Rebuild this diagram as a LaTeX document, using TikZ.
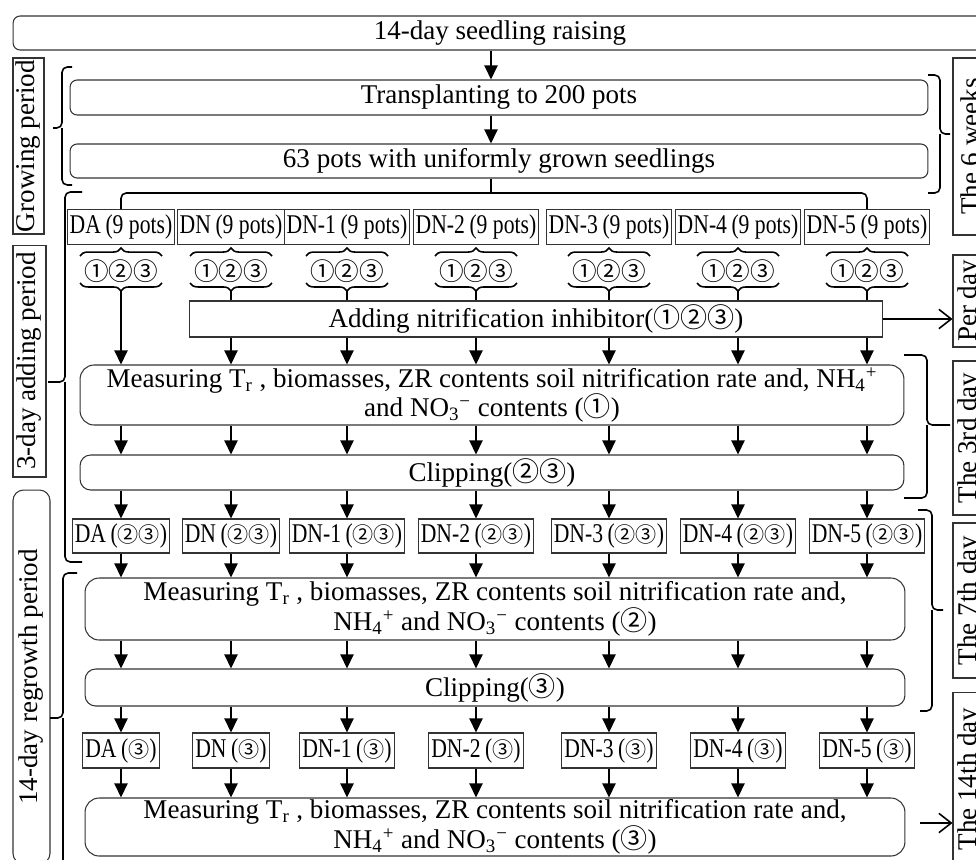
\documentclass[tikz,border=0pt]{standalone}
\usepackage{fontspec}
\setmainfont{Liberation Serif}
\newfontfamily\cnum{Noto Sans CJK SC}
\newfontfamily\cond[FakeStretch=0.8]{Liberation Serif}
\usetikzlibrary{arrows.meta, decorations.pathreplacing}

\tikzset{
  rbox/.style={draw=black!80, line width=0.6pt, rounded corners=4pt, inner sep=1pt},
  sbox/.style={draw=black!80, line width=0.6pt, inner sep=1pt},
  grp/.style={draw=black!80, line width=0.6pt, inner sep=1.5pt, minimum height=0.7cm, font=\cond\fontsize{15.4}{16}\selectfont},
  num/.style={inner sep=0pt, font=\cnum\fontsize{14}{15}\selectfont},
  side/.style={draw=black!80, line width=0.6pt, rotate=90, inner sep=1pt},
  arr/.style={-{Triangle[length=8pt,width=7.5pt]}, line width=0.9pt},
  lin/.style={line width=0.9pt},
  barb/.style={-{Straight Barb[length=7pt,width=11pt]}, line width=0.9pt},
  brc/.style={decorate, decoration={brace, amplitude=4.5pt}, line width=0.9pt},
  bkt/.style={line width=0.9pt, rounded corners=3pt}
}

\begin{document}
\begin{tikzpicture}[x=0.02cm, y=-0.02cm, font=\fontsize{15.4}{16.8}\selectfont]
  \useasboundingbox (0,0) rectangle (976,859);
  \clip (0,0) rectangle (976,859);

  % main column
  \node[rbox, minimum width=19.48cm, minimum height=0.68cm] (seed) at (500,33) {14-day seedling raising};
  \node[rbox, minimum width=17.16cm, minimum height=0.7cm] (trans) at (499,97.5) {Transplanting to 200 pots};
  \node[rbox, minimum width=17.16cm, minimum height=0.68cm] (uni) at (499,161) {63 pots with uniformly grown seedlings};
  \coordinate (stem) at (491,0);

  \node[sbox, minimum width=13.88cm, minimum height=0.72cm] (add) at (536,319) {Adding nitrification inhibitor({\cnum ①②③})};

  \node[rbox, rounded corners=8pt, minimum width=16.48cm, minimum height=1.2cm, align=center] (meas1) at (492,395)
    {Measuring T\textsubscript{r} , biomasses, ZR contents soil nitrification rate and, NH\textsubscript{4}\textsuperscript{+}\\
     and NO\textsubscript{3}\textsuperscript{−} contents ({\cnum ①})};
  \node[rbox, rounded corners=6pt, minimum width=16.48cm, minimum height=0.7cm] (clip1) at (492,472.5) {Clipping({\cnum ②③})};

  \node[rbox, rounded corners=8pt, minimum width=16.4cm, minimum height=1.24cm, align=center] (meas2) at (495,609)
    {Measuring T\textsubscript{r} , biomasses, ZR contents soil nitrification rate and,\\
     NH\textsubscript{4}\textsuperscript{+} and NO\textsubscript{3}\textsuperscript{−} contents ({\cnum ②})};
  \node[rbox, rounded corners=6pt, minimum width=16.4cm, minimum height=0.74cm] (clip2) at (495,687.5) {Clipping({\cnum ③})};

  \node[rbox, rounded corners=8pt, minimum width=16.4cm, minimum height=1.16cm, align=center] (meas3) at (495,827)
    {Measuring T\textsubscript{r} , biomasses, ZR contents soil nitrification rate and,\\
     NH\textsubscript{4}\textsuperscript{+} and NO\textsubscript{3}\textsuperscript{−} contents ({\cnum ③})};

  % period labels
  \node[side, minimum width=3.52cm, minimum height=0.62cm] (grow) at (28.5,146) {Growing period};
  \node[side, minimum width=4.64cm, minimum height=0.66cm] (adding) at (29.5,361) {3-day adding period};
  \node[side, rounded corners=6pt, minimum width=7.48cm, minimum height=0.74cm] (regrow) at (31.5,677) {14-day regrowth period};

  \node[side, minimum width=3.54cm, minimum height=0.68cm] (weeks) at (970,146.5) {The 6 weeks};
  \node[side, minimum width=1.84cm, minimum height=0.68cm] (perday) at (970,301) {Per day};
  \node[side, minimum width=3.08cm, minimum height=0.68cm] (day3) at (970,438) {The 3rd day};
  \node[side, minimum width=3.1cm, minimum height=0.68cm] (day7) at (970,600.5) {The 7th day};
  \node[side, minimum width=3.48cm, minimum height=0.68cm] (day14) at (970,779) {The 14th day};

  % treatments
  \foreach \i/\x/\t in {1/121/DA, 2/231/DN, 3/347/DN-1, 4/476/DN-2, 5/609/DN-3, 6/738/DN-4, 7/867/DN-5}{
    \node[grp] (g\i) at (\x,227) {\t\,(9 pots)};
    \node[num] (c\i) at (\x,271) {①②③};
    \node[grp, minimum height=0.68cm] (h\i) at (\x,536) {\t\,({\cnum\fontsize{12}{13}\selectfont ②③})};
    \node[grp] (k\i) at (\x,750.5) {\t\,({\cnum\fontsize{12}{13}\selectfont ③})};
    \draw[brc] (\x-41,256) -- (\x+41,256);
    \draw[brc] (\x+41,283) -- (\x-41,283);
    \coordinate (b\i) at (\x,291);
  }

  % connectors
  \draw[arr] (stem |- seed.south) -- (stem |- trans.north);
  \draw[arr] (stem |- trans.south) -- (stem |- uni.north);
  \draw[lin] (stem |- uni.south) -- ++(0,15);
  \draw[lin, rounded corners=3pt] (g1.north) -- ++(0,-16) -| (g7.north);

  \draw[arr] (b1) -- (b1 |- meas1.north);
  \foreach \i in {2,...,7}{
    \draw[lin] (b\i) -- (b\i |- add.north);
    \draw[arr] (b\i |- add.south) -- (b\i |- meas1.north);
  }
  \foreach \i in {1,...,7}{
    \draw[arr] (c\i |- meas1.south) -- (c\i |- clip1.north);
    \draw[arr] (h\i |- clip1.south) -- (h\i.north);
    \draw[arr] (h\i.south) -- (h\i |- meas2.north);
    \draw[arr] (h\i |- meas2.south) -- (h\i |- clip2.north);
    \draw[arr] (k\i |- clip2.south) -- (k\i.north);
    \draw[arr] (k\i.south) -- (k\i |- meas3.north);
  }

  \draw[barb] (add.east) -- (add.east -| perday.north);
  \coordinate (m3r) at (920,823);
  \draw[barb] (m3r) -- (m3r -| day14.north);

  % brackets
  \draw[bkt] (72,67) -- (62,67) -- (62,128) -- (53,128) (62,128) -- (62,185) -- (72,185);
  \draw[bkt] (82,192) -- (65,192) -- (65,382) -- (48,382) (65,382) -- (65,562) -- (82,562);
  \draw[bkt] (77,573) -- (63,573) -- (63,718) -- (50,718) (63,718) -- (63,880);
  \draw[bkt] (928,75) -- (940,75) -- (940,134) -- (950,134) (940,134) -- (940,193) -- (928,193);
  \draw[bkt] (904,355) -- (927,355) -- (927,425) -- (950,425) (927,425) -- (927,498) -- (904,498);
  \draw[bkt] (918,510) -- (932,510) -- (932,610) -- (943,610) (932,610) -- (932,711) -- (920,711);
\end{tikzpicture}
\end{document}
